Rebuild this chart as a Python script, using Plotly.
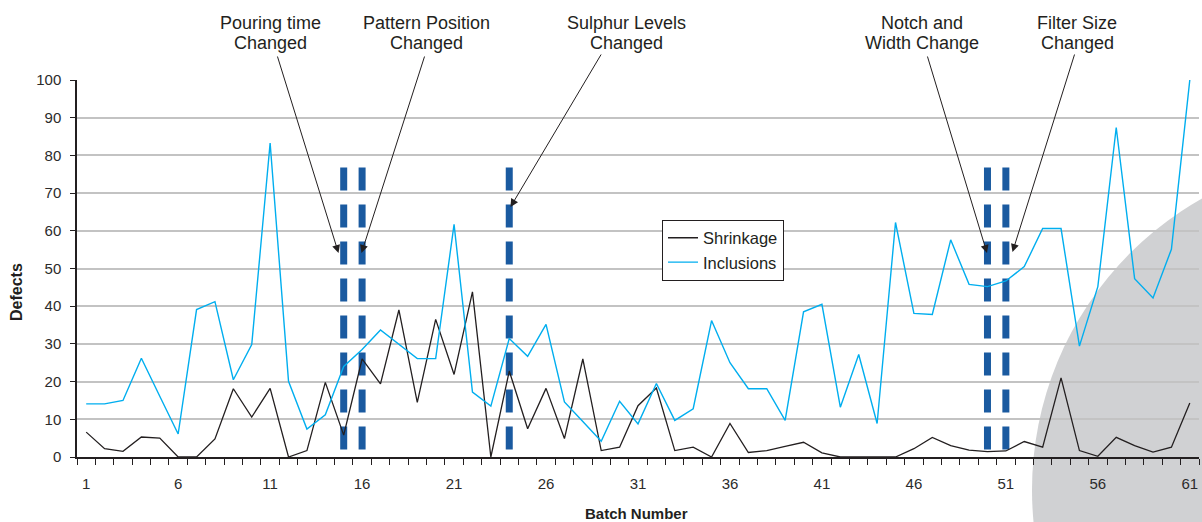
import plotly.graph_objects as go

# ---------------- data ----------------
batches = list(range(1, 62))
shrinkage = [6.6, 2.2, 1.5, 5.3, 5.0, 0, 0, 4.8, 18.1, 10.6,
             18.2, 0, 1.7, 19.8, 5.8, 26.0, 19.4, 39.0, 14.5, 36.5,
             21.9, 43.8, 0, 22.8, 7.5, 18.2, 4.9, 26.0, 1.7, 2.6,
             13.6, 18.3, 1.7, 2.6, 0, 8.9, 1.2, 1.7, 2.8, 3.9,
             1.1, 0, 0, 0, 0, 2.2, 5.2, 3.0, 1.8, 1.4,
             1.6, 4.1, 2.6, 21.0, 1.7, 0.2, 5.2, 3.0, 1.3, 2.6,
             14.3]
inclusions = [14.1, 14.1, 15.0, 26.2, 16.1, 6.1, 39.1, 41.2, 20.5, 29.8,
              83.3, 20.1, 7.4, 11.2, 24.0, 28.5, 33.7, 29.8, 26.1, 26.1,
              61.7, 17.2, 13.5, 31.4, 26.7, 35.2, 14.6, 9.4, 4.2, 14.8,
              8.8, 19.5, 9.7, 12.8, 36.2, 25.0, 18.1, 18.1, 9.7, 38.5,
              40.5, 13.2, 27.2, 8.9, 62.2, 38.1, 37.8, 57.6, 45.8, 45.2,
              46.7, 50.5, 60.6, 60.6, 29.4, 45.2, 87.4, 47.3, 42.2, 55.1,
              100]
change_batches = [15, 16, 24, 50, 51]
change_labels = [["Pouring time", "Changed"],
                 ["Pattern Position", "Changed"],
                 ["Sulphur Levels", "Changed"],
                 ["Notch and", "Width Change"],
                 ["Filter Size", "Changed"]]
x_tick_labels = [1, 6, 11, 16, 21, 26, 31, 36, 41, 46, 51, 56, 61]
y_ticks = list(range(0, 101, 10))

# ---------------- layout geometry (pixels) ----------------
W, H = 1202, 522
L, R, T, B = 77, 1199, 80, 457
NCAT = 61


def px_x(px):
    return (px - L) / (R - L)


def px_y(py):
    return (B - py) / (B - T)


def dx(px):
    return 0.5 + (px - L) / (R - L) * NCAT


def dy(py):
    return (B - py) / (B - T) * 100


TXT = "#231f20"
FONT = "Liberation Sans, Arial, Helvetica, sans-serif"
BAR_TOP = 76.8

fig = go.Figure()

# dashed vertical change markers
for b in change_batches:
    fig.add_trace(go.Scatter(
        x=[b, b], y=[BAR_TOP, 0], mode="lines",
        line=dict(color="#1a5aa0", width=7, dash="23px,14px"),
        hoverinfo="skip", showlegend=False))

fig.add_trace(go.Scatter(x=batches, y=shrinkage, mode="lines", name="Shrinkage",
                         line=dict(color="#231f20", width=1.3)))
fig.add_trace(go.Scatter(x=batches, y=inclusions, mode="lines", name="Inclusions",
                         line=dict(color="#00aeef", width=1.4)))

annotations = []
# top labels: (center px, arrow tail px, arrow tip px)
label_geom = [
    (270, (277, 55), (338.5, 253)),
    (426, (425, 55), (361.5, 253)),
    (626, (602, 53), (510.5, 207)),
    (921.5, (927, 55), (987, 253)),
    (1077, (1075, 53), (1012.5, 252)),
]
for lines, (cx, tail, tip) in zip(change_labels, label_geom):
    for text, cy in zip(lines, (23, 43.5)):
        annotations.append(dict(
            x=px_x(cx), y=px_y(cy), xref="paper", yref="paper",
            text=text, showarrow=False, xanchor="center", yanchor="middle",
            font=dict(family=FONT, size=18, color=TXT)))
    annotations.append(dict(
        x=dx(tip[0]), y=dy(tip[1]), xref="x", yref="y",
        ax=dx(tail[0]), ay=dy(tail[1]), axref="x", ayref="y",
        text="", showarrow=True, arrowhead=2, arrowsize=1.6, arrowwidth=1,
        arrowcolor=TXT, standoff=0, startstandoff=0))

# axis titles
annotations.append(dict(
    x=px_x(16), y=px_y(292), xref="paper", yref="paper", text="<b>Defects</b>",
    textangle=-90, showarrow=False, xanchor="center", yanchor="middle",
    font=dict(family=FONT, size=16, color=TXT)))
annotations.append(dict(
    x=px_x(636), y=px_y(513), xref="paper", yref="paper", text="<b>Batch Number</b>",
    showarrow=False, xanchor="center", yanchor="middle",
    font=dict(family=FONT, size=15, color=TXT)))

fig.update_layout(
    width=W, height=H,
    margin=dict(l=L, r=W - R, t=T, b=H - B),
    paper_bgcolor="white",
    plot_bgcolor="rgba(0,0,0,0)",
    font=dict(family=FONT, color=TXT),
    annotations=annotations,
    shapes=[dict(
        type="circle", xref="paper", yref="paper", layer="below",
        x0=px_x(1032), x1=px_x(1702), y0=px_y(825), y1=px_y(155),
        fillcolor="#d0d1d3", line=dict(width=0))],
    legend=dict(
        x=px_x(662), y=px_y(219.5), xanchor="left", yanchor="top",
        bgcolor="white", bordercolor=TXT, borderwidth=1,
        font=dict(family=FONT, size=16.5, color=TXT),
        tracegroupgap=0),
    xaxis=dict(
        range=[0.5, 61.5], tickmode="array", tickvals=x_tick_labels,
        ticktext=[str(v) for v in x_tick_labels], ticks="",
        showgrid=False, zeroline=False, showline=True,
        linecolor=TXT, linewidth=2,
        tickfont=dict(family=FONT, size=15, color="#2b2b2b"),
        ticklabelstandoff=12,
        minor=dict(ticks="outside", tickmode="linear", tick0=0.5, dtick=1,
                   ticklen=6, tickwidth=1.3, tickcolor=TXT, showgrid=False)),
    yaxis=dict(
        range=[0, 100], tickmode="array", tickvals=y_ticks,
        ticks="outside", ticklen=5, tickwidth=1.3, tickcolor=TXT,
        showline=True, linecolor=TXT, linewidth=1.5,
        showgrid=True, gridcolor="#c3c3c3", gridwidth=1.5, zeroline=False,
        tickfont=dict(family=FONT, size=15, color="#2b2b2b"),
        ticklabelstandoff=6),
)

fig.write_html(
    "out.html",
    config={"displayModeBar": False},
    post_script="document.body.style.margin='0';document.body.style.overflow='hidden';",
)
